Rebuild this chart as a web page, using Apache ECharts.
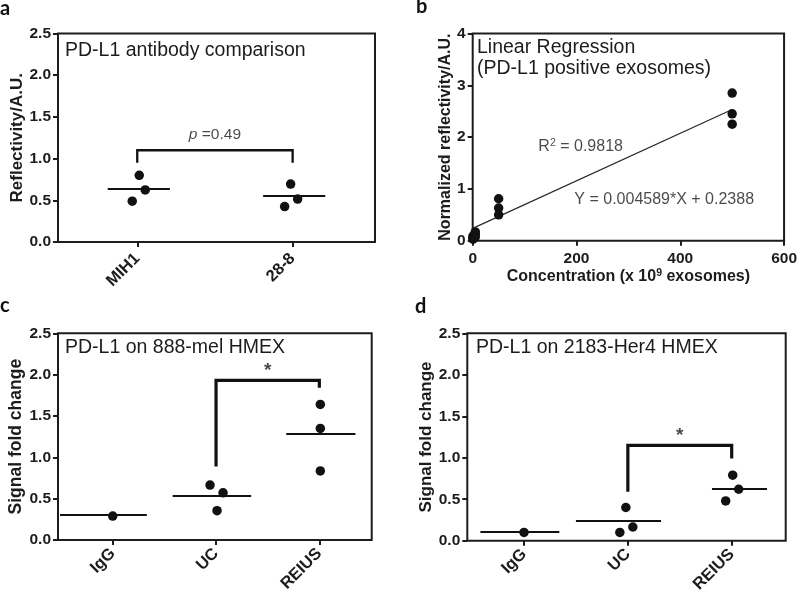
<!DOCTYPE html>
<html>
<head>
<meta charset="utf-8">
<script src="https://cdn.jsdelivr.net/npm/echarts@6/dist/echarts.min.js"></script>
<style>html,body{margin:0;padding:0;background:#fff}#c{width:800px;height:596px}</style>
</head>
<body>
<div id="c"></div>
<script>
// ---------- data ----------
const catsA = ['MIH1', '28-8'];
const valsA = [[0.80, 0.49, 0.625], [0.695, 0.425, 0.515]];
const meansA = [0.64, 0.55];
const pValueA = '0.49';

const concB = [0.5, 5, 50, 500];
const respB = [[0.09, 0.05, 0.03], [0.17, 0.12, 0.07], [0.81, 0.63, 0.50], [2.85, 2.45, 2.25]];
const regSlope = 0.004589;
const regIntercept = 0.2388;
const regRange = [0, 500];
const r2B = '0.9818';

const catsCD = ['IgG', 'UC', 'REIUS'];
const valsC = [[0.29], [0.665, 0.57, 0.355], [1.64, 1.35, 0.835]];
const meansC = [0.30, 0.53, 1.28];
const valsD = [[0.10], [0.40, 0.10, 0.165], [0.79, 0.62, 0.48]];
const meansD = [0.11, 0.235, 0.63];

// brackets: [fromIndex, toIndex, topValue, fromLegBottom, toLegBottom]
const bracketA = [0, 1, 1.10, 0.95, 0.95];
const bracketC = [1, 2, 1.93, 0.89, 1.84];
const bracketD = [1, 2, 1.15, 0.59, 0.99];

const yTicks25 = [0, 0.5, 1.0, 1.5, 2.0, 2.5];
const yTicksB = [0, 1, 2, 3, 4];
const xTicksB = [0, 200, 400, 600];

// ---------- styles ----------
const INK = '#1c1c1c';
const FONT = '"Liberation Sans", Arial, sans-serif';
const jitterA = [[2, -5, 8], [-2, -8, 5]];
const jitterC = [[0], [-6, 7, 1], [1, 1, 1]];
const jitterD = [[0], [-2, -8, 5], [1, 7, -6]];
const spanA = [[-0.19, 0.21], [-0.19, 0.21]];
const spanC = [[-0.51, 0.33], [-0.42, 0.34], [-0.32, 0.35]];
const spanD = [[-0.42, 0.34], [-0.50, 0.32], [-0.19, 0.34]];

const grids = [
  {left: 58, top: 33.5, width: 317, height: 208.5},
  {left: 472.7, top: 33.5, width: 313, height: 207.2},
  {left: 58, top: 333.3, width: 313.7, height: 206.7},
  {left: 467.3, top: 333.3, width: 318.4, height: 207.4}
].map(g => Object.assign({show: true, borderColor: INK, borderWidth: 2, backgroundColor: 'transparent'}, g));

const tickStyle = {show: true, length: 5, inside: false, lineStyle: {color: INK, width: 2}};
const lblStyle = {color: INK, fontFamily: FONT, fontWeight: 'bold', fontSize: 15.5};
const noLine = {show: false, onZero: false};

function catXAxis(gi, cats, min, max, margin) {
  const idx = cats.map((c, i) => i);
  return {
    gridIndex: gi, type: 'value', min: min, max: max,
    axisLine: noLine, splitLine: {show: false},
    axisTick: Object.assign({customValues: idx}, tickStyle),
    axisLabel: Object.assign({}, lblStyle, {customValues: idx, fontSize: 16.5, rotate: 45, margin: margin,
      formatter: v => cats[Math.round(v)]})
  };
}
function valYAxis(gi, ticks, max, name, gap, nameSize, fmt) {
  return {
    gridIndex: gi, type: 'value', min: 0, max: max,
    axisLine: noLine, splitLine: {show: false},
    axisTick: Object.assign({customValues: ticks}, tickStyle),
    axisLabel: Object.assign({}, lblStyle, {customValues: ticks, margin: 7, formatter: fmt}),
    name: name, nameLocation: 'middle', nameGap: gap, nameRotate: 90,
    nameTextStyle: {color: INK, fontFamily: FONT, fontWeight: 'bold', fontSize: nameSize}
  };
}

const dotStyle = {color: '#111', opacity: 1};
const series = [];
function catPanel(gi, vals, means, jit, span, br, brWidth, label) {
  const pts = [];
  vals.forEach((arr, i) => arr.forEach((v, k) => pts.push({value: [i, v], symbolOffset: [jit[i][k], 0]})));
  series.push({
    type: 'scatter', xAxisIndex: gi, yAxisIndex: gi, data: pts, symbol: 'circle', symbolSize: 9.5,
    itemStyle: dotStyle, silent: true, z: 3,
    markLine: {
      silent: true, symbol: ['none', 'none'], label: {show: false},
      lineStyle: {color: '#111', width: 2, type: 'solid', opacity: 1},
      emphasis: {disabled: true},
      data: means.map((m, i) => [{coord: [i + span[i][0], m]}, {coord: [i + span[i][1], m]}])
    }
  });
  series.push({
    type: 'line', xAxisIndex: gi, yAxisIndex: gi, symbol: 'none', silent: true,
    lineStyle: {color: '#111', width: brWidth, join: 'miter', cap: 'butt'},
    data: [[br[0], br[3]], [br[0], br[2]], [br[1], br[2]], [br[1], br[4]]]
  });
  series.push({
    type: 'scatter', xAxisIndex: gi, yAxisIndex: gi, symbolSize: 0, silent: true,
    data: [[(br[0] + br[1]) / 2, br[2]]],
    label: label
  });
}

catPanel(0, valsA, meansA, jitterA, spanA, bracketA, 2.3, {
  show: true, position: 'top', distance: 8, formatter: '{i|p} =' + pValueA,
  color: INK, fontFamily: FONT, fontSize: 15.5,
  rich: {i: {fontStyle: 'italic', color: INK, fontFamily: FONT, fontSize: 15.5}}
});
catPanel(2, valsC, meansC, jitterC, spanC, bracketC, 3.2, {
  show: true, position: 'top', distance: 0, formatter: '*',
  color: INK, fontFamily: FONT, fontSize: 19, fontWeight: 'bold'
});
catPanel(3, valsD, meansD, jitterD, spanD, bracketD, 3.2, {
  show: true, position: 'top', distance: 0, formatter: '*',
  color: INK, fontFamily: FONT, fontSize: 19, fontWeight: 'bold'
});

// panel b
const ptsB = [];
concB.forEach((c, i) => respB[i].forEach(v => ptsB.push([c, v])));
series.push({
  type: 'scatter', xAxisIndex: 1, yAxisIndex: 1, data: ptsB, symbolSize: 9.5,
  itemStyle: dotStyle, silent: true, z: 3
});
series.push({
  type: 'line', xAxisIndex: 1, yAxisIndex: 1, symbol: 'none', silent: true,
  lineStyle: {color: '#2a2a2a', width: 1.3},
  data: regRange.map(x => [x, regSlope * x + regIntercept])
});
const noteStyle = {color: INK, fontFamily: FONT, fontSize: 16};
series.push({
  type: 'scatter', xAxisIndex: 1, yAxisIndex: 1, symbolSize: 0, silent: true,
  data: [
    {value: [208, 1.81], label: {formatter: 'R{s|2} = ' + r2B}},
    {value: [369, 0.79], label: {formatter: 'Y = ' + regSlope + '*X + ' + regIntercept}}
  ],
  label: Object.assign({show: true, position: 'inside', lineHeight: 18,
    rich: {s: {fontSize: 10.5, lineHeight: 18, verticalAlign: 'top', padding: [0, 0, 8, 0], color: INK, fontFamily: FONT}}}, noteStyle)
});

const titleText = {color: INK, fontFamily: FONT, fontSize: 19.5, fontWeight: 'normal', lineHeight: 21};
const letterText = {color: '#111', fontFamily: 'Lato, "Open Sans", sans-serif', fontSize: 20, fontWeight: 'bold'};

const option = {
  animation: false,
  backgroundColor: '#fff',
  title: [
    {text: 'a', left: 0, top: -1, padding: 0, textStyle: letterText},
    {text: 'b', left: 416, top: -3, padding: 0, textStyle: letterText},
    {text: 'c', left: 0, top: 296, padding: 0, textStyle: letterText},
    {text: 'd', left: 415, top: 297, padding: 0, textStyle: letterText},
    {text: 'PD-L1 antibody comparison', left: 65, top: 40, padding: 0, textStyle: titleText},
    {text: 'Linear Regression\n(PD-L1 positive exosomes)', left: 477, top: 37, padding: 0, textStyle: titleText},
    {text: 'PD-L1 on 888-mel HMEX', left: 65, top: 337, padding: 0, textStyle: titleText},
    {text: 'PD-L1 on 2183-Her4 HMEX', left: 476, top: 337, padding: 0, textStyle: titleText}
  ],
  grid: grids,
  xAxis: [
    catXAxis(0, catsA, -0.51, 1.53, 14),
    {
      gridIndex: 1, type: 'value', min: 0, max: 600,
      axisLine: noLine, splitLine: {show: false},
      axisTick: Object.assign({customValues: xTicksB}, tickStyle),
      axisLabel: Object.assign({}, lblStyle, {customValues: xTicksB, margin: 10}),
      name: 'Concentration (x 10{s|9} exosomes)', nameLocation: 'middle', nameGap: 26,
      nameTextStyle: {color: INK, fontFamily: FONT, fontWeight: 'bold', fontSize: 16, lineHeight: 18,
        rich: {s: {fontSize: 10.5, fontWeight: 'bold', lineHeight: 18, verticalAlign: 'top', padding: [0, 0, 8, 0], color: INK, fontFamily: FONT}}}
    },
    catXAxis(2, catsCD, -0.53, 2.507, 11),
    catXAxis(3, catsCD, -0.546, 2.52, 11)
  ],
  yAxis: [
    valYAxis(0, yTicks25, 2.5, 'Reflectivity/A.U.', 31, 17, v => v.toFixed(1)),
    valYAxis(1, yTicksB, 4, 'Normalized reflectivity/A.U.', 16, 16, v => String(v)),
    valYAxis(2, yTicks25, 2.5, 'Signal fold change', 31, 17.5, v => v.toFixed(1)),
    valYAxis(3, yTicks25, 2.5, 'Signal fold change', 30, 17, v => v.toFixed(1))
  ],
  series: series
};

const chart = echarts.init(document.getElementById('c'), null, {renderer: 'canvas'});
chart.setOption(option);
</script>
</body>
</html>
